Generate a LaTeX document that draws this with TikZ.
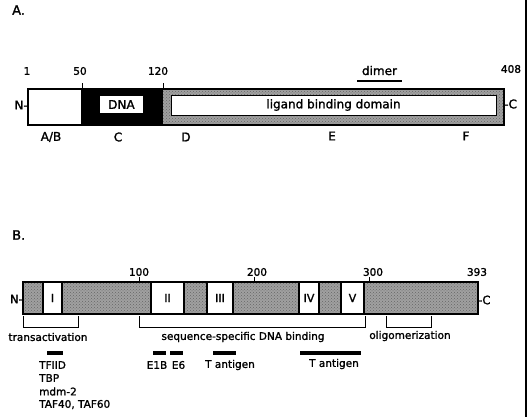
\documentclass[tikz,border=0pt]{standalone}
\usepackage{fontspec}
\setmainfont{DejaVu Sans}[BoldFont=DejaVu Sans, BoldFeatures={FakeBold=1.5}]
\usetikzlibrary{patterns}
\definecolor{hatch}{RGB}{160,160,160}
\tikzset{
  lblA/.style={inner sep=0pt, font=\bfseries\fontsize{12}{14}\selectfont},
  numA/.style={inner sep=0pt, font=\bfseries\fontsize{10.5}{12}\selectfont},
  lblB/.style={inner sep=0pt, font=\bfseries\fontsize{10.5}{12}\selectfont},
  boxline/.style={line width=1.2pt},
  tick/.style={line width=1pt},
  brack/.style={line width=0.9pt},
  featbar/.style={line width=4pt},
  hatchfill/.style={fill=hatch, postaction={pattern=crosshatch dots, pattern color=black!60}},
}
\begin{document}
\begin{tikzpicture}[x=1pt,y=-1pt]
\useasboundingbox (0,0) rectangle (528,417);
\draw[line width=1.3pt] (526,0) -- (526,417);
% ---------------- Panel A
\node[lblA, font=\bfseries\fontsize{13}{15}\selectfont, anchor=west] (A) at (12,10) {A.};
\fill[white] (28,89) rectangle (82,125);
\fill[black] (82,89) rectangle (163,125);
\path[hatchfill] (163,89) rectangle (504,125);
\draw[boxline] (28,89) rectangle (504,125);
\draw[boxline] (82,89) -- (82,125);
\node[draw, line width=0.8pt, fill=white, minimum width=325pt, minimum height=20pt, inner sep=0pt, font=\bfseries\fontsize{12}{14}\selectfont] (lbd) at (333.5,105) {ligand binding domain};
\node[fill=white, minimum width=43pt, minimum height=17pt, inner sep=0pt, font=\bfseries\fontsize{12}{14}\selectfont] (dna) at (121.5,104.5) {DNA};
\coordinate (t50) at (82,89);
\coordinate (t120) at (163,89);
\draw[tick] (t50) -- ++(0,-6);
\draw[tick] (t120) -- ++(0,-6);
\node[numA] (n1) at (27,71) {1};
\node[numA] (n50) at (80,71) {50};
\node[numA] (n120) at (158,71) {120};
\node[numA] (n408) at (511,69) {408};
\node[lblA, anchor=base] (dimer) at (379.5,75) {dimer};
\coordinate (dl) at (357,81);
\coordinate (dr) at (402,81);
\draw[line width=2pt] (dl) -- (dr);
\node[lblA, anchor=east] (NA) at (28,105) {N-};
\node[lblA, anchor=west] (CA) at (504,104) {-C};
\node[lblA] (ab) at (51,137) {A/B};
\node[lblA] (c) at (118,137) {C};
\node[lblA] (d) at (186,137) {D};
\node[lblA] (e) at (332,136) {E};
\node[lblA] (f) at (466,136) {F};
% ---------------- Panel B
\node[lblA, font=\bfseries\fontsize{13}{15}\selectfont, anchor=west] (B) at (12,235) {B.};
\path[hatchfill] (23,282) rectangle (478,314);
\draw[boxline] (23,282) rectangle (478,314);
\foreach \nm/\xa/\xb/\txt in {I/43/62/I, II/151/184/II, III/207/233/III, IV/299/319/IV, V/341/364/V}{
  \draw[boxline, fill=white] (\xa,282) rectangle (\xb,314);
  \node[lblB, font=\bfseries\fontsize{11}{13}\selectfont] (box\nm) at ({(\xa+\xb)/2},298) {\txt};
}
\draw[tick] (139,282) -- (139,277);
\draw[tick] (254,282) -- (254,277);
\draw[tick] (369,282) -- (369,277);
\node[lblB] (n100) at (139,272) {100};
\node[lblB] (n200) at (257,272) {200};
\node[lblB] (n300) at (373,272) {300};
\node[lblB] (n393) at (477,272) {393};
\node[lblA, font=\bfseries\fontsize{11.5}{13}\selectfont, anchor=east] (NB) at (23,299) {N-};
\node[lblA, font=\bfseries\fontsize{11.5}{13}\selectfont, anchor=west] (CB) at (478,300) {-C};
% brackets
\draw[brack] (23,316) -- (23,327) -- (78,327) -- (78,316);
\node[lblB] (trans) at (48,337) {transactivation};
\draw[brack] (139,316) -- (139,327) -- (365,327) -- (365,316);
\node[lblB] (ssdb) at (243,337) {sequence-specific DNA binding};
\draw[brack] (386,316) -- (386,327) -- (431,327) -- (431,316);
\node[lblB] (olig) at (410,336) {oligomerization};
% binding bars
\draw[featbar] (47,353) -- (63,353);
\draw[featbar] (153,353) -- (166,353);
\draw[featbar] (170,353) -- (183,353);
\draw[featbar] (213,353) -- (236,353);
\draw[featbar] (300,353) -- (361,353);
\node[lblB, anchor=west] (tfiid) at (39,365) {TFIID};
\node[lblB, anchor=west] (tbp) at (39,378) {TBP};
\node[lblB, anchor=west] (mdm) at (39,391.5) {mdm-2};
\node[lblB, anchor=west] (taf) at (39,404.5) {TAF40, TAF60};
\node[lblB] (e1b) at (157,365) {E1B};
\node[lblB] (e6) at (178.5,365) {E6};
\node[lblB] (tant1) at (230,365) {T antigen};
\node[lblB] (tant2) at (334,364) {T antigen};
\end{tikzpicture}
\end{document}
